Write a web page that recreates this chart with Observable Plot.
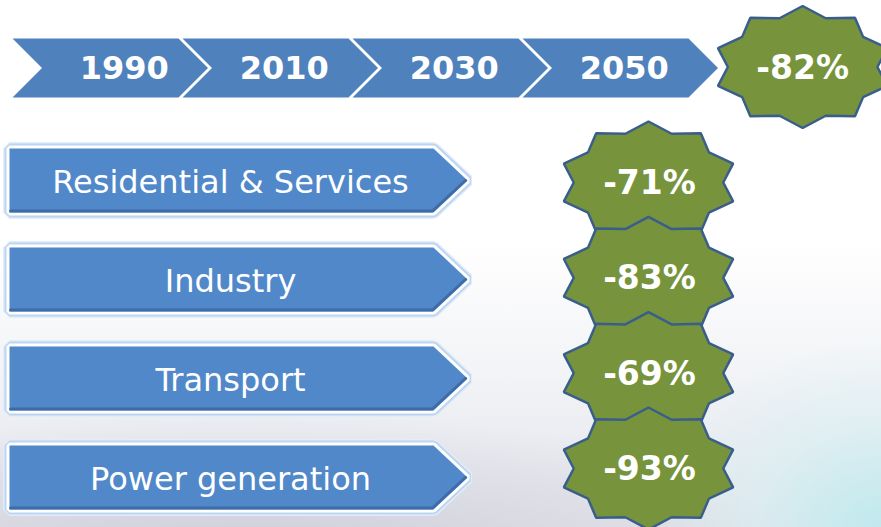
<!DOCTYPE html>
<html>
<head>
<meta charset="utf-8">
<script src="https://cdn.jsdelivr.net/npm/d3@7"></script>
<script src="https://cdn.jsdelivr.net/npm/@observablehq/plot@0.6"></script>
<style>
  html, body { margin: 0; padding: 0; }
  #chart {
    width: 881px; height: 527px; overflow: hidden;
    background:
      radial-gradient(ellipse 230px 190px at 881px 527px, rgba(190,234,238,0.95), rgba(214,240,243,0.55) 55%, rgba(255,255,255,0) 100%),
      radial-gradient(ellipse 560px 150px at 250px 560px, rgba(200,201,212,0.8), rgba(255,255,255,0) 100%),
      linear-gradient(180deg, #ffffff 0%, #ffffff 45%, #f3f4f7 70%, #e2e3ea 100%);
  }
</style>
</head>
<body>
<div id="chart"></div>
<script>
// ---- data ----
const years = ["1990", "2010", "2030", "2050"];
const totalReduction = -82;
const sectors = ["Residential & Services", "Industry", "Transport", "Power generation"];
const sectorReductions = [-71, -83, -69, -93];

// ---- layout ----
const W = 881, H = 527;
const FONT = "Verdana, 'DejaVu Sans', sans-serif";
const yearBand = Plot.scale({x: {type: "band", domain: years, range: [12, 692], padding: 0}});
const rowBand = Plot.scale({y: {type: "band", domain: sectors, range: [148, 544], padding: 0}});
const starRow = Plot.scale({y: {type: "point", domain: sectors, range: [182, 468], padding: 0}});

const chevTop = 38, chevBot = 97, chevMid = (chevTop + chevBot) / 2, chevDepth = 29.5, gap = 4;
const chevrons = [];
const yearLabels = [];
years.forEach((yr, i) => {
  const s = yearBand.apply(yr), e = s + yearBand.bandwidth - gap;
  [[s, chevTop], [e, chevTop], [e + chevDepth, chevMid], [e, chevBot], [s, chevBot], [s + chevDepth, chevMid]]
    .forEach(([x, y]) => chevrons.push({x, y, id: yr}));
  yearLabels.push({label: yr, x: (s + chevDepth + e) / 2 + (i === 0 ? 14 : 4), y: chevMid + 1});
});
const lastTip = yearBand.apply(years[years.length - 1]) + yearBand.bandwidth - gap + chevDepth;

const RX = 89, RY = 61, INNER = 0.84;
function star(cx, cy, id) {
  const pts = [];
  for (let k = 0; k < 20; k++) {
    const a = (90 + k * 18) * Math.PI / 180;
    const r = k % 2 === 0 ? 1 : INNER;
    pts.push({x: cx + RX * r * Math.cos(a), y: cy - RY * r * Math.sin(a), id});
  }
  return pts;
}
const topStarX = lastTip + RX * Math.cos(18 * Math.PI / 180), topStarY = chevMid - 1;
const starCX = 648;
const stars = [...star(topStarX, topStarY, "total")];
sectors.forEach((s) => stars.push(...star(starCX, starRow.apply(s), s)));
const starLabels = [{label: `${totalReduction}%`, x: topStarX, y: topStarY + 1}]
  .concat(sectors.map((s, i) => ({label: `${sectorReductions[i]}%`, x: starCX + 1, y: starRow.apply(s) + 1})));

const arrowL = 9, arrowR = 433, arrowTip = 467, arrowH = 64;
const arrows = [], bevels = [], sectorLabels = [];
sectors.forEach((s) => {
  const t = rowBand.apply(s), b = t + arrowH, m = t + arrowH / 2;
  [[arrowL, t], [arrowR, t], [arrowTip, m], [arrowR, b], [arrowL, b]].forEach(([x, y]) => arrows.push({x, y, id: s}));
  [[arrowL + 1, b - 1.5], [arrowR - 1, b - 1.5], [arrowTip - 2, m]].forEach(([x, y]) => bevels.push({x, y, id: s}));
  sectorLabels.push({label: s, x: 230, y: m + 2});
});

const poly = (data, o) => Plot.line(data, {x: "x", y: "y", z: "id", curve: "linear-closed", strokeLinejoin: "miter", ...o});

const chart = Plot.plot({
  width: W, height: H, margin: 0,
  x: {type: "linear", domain: [0, W], range: [0, W], axis: null},
  y: {type: "linear", domain: [0, H], range: [0, H], axis: null},
  style: {background: "transparent", overflow: "visible"},
  marks: [
    // timeline chevrons
    poly(chevrons, {fill: "#4F81BD", stroke: "none"}),
    Plot.text(yearLabels, {x: "x", y: "y", text: "label", fill: "white", fontSize: 32, fontWeight: "bold", fontFamily: FONT}),
    // sector arrows with glow + white border
    poly(arrows, {fill: "none", stroke: "#e2edf9", strokeWidth: 13}),
    poly(arrows, {fill: "none", stroke: "#bcd5f1", strokeWidth: 10}),
    poly(arrows, {fill: "none", stroke: "#ffffff", strokeWidth: 6}),
    poly(arrows, {fill: "#5088CA", stroke: "none"}),
    Plot.line(bevels, {x: "x", y: "y", z: "id", stroke: "#3D69A4", strokeWidth: 3, strokeLinejoin: "miter", strokeOpacity: 0.9}),
    Plot.text(sectorLabels, {x: "x", y: "y", text: "label", fill: "white", fontSize: 32, fontFamily: FONT}),
    // stars
    poly(stars, {fill: "#77933C", stroke: "#3A5E8C", strokeWidth: 2.5}),
    Plot.text(starLabels, {x: "x", y: "y", text: "label", fill: "white", fontSize: 33, fontWeight: "bold", fontFamily: FONT})
  ]
});
document.getElementById("chart").appendChild(chart);
</script>
</body>
</html>
